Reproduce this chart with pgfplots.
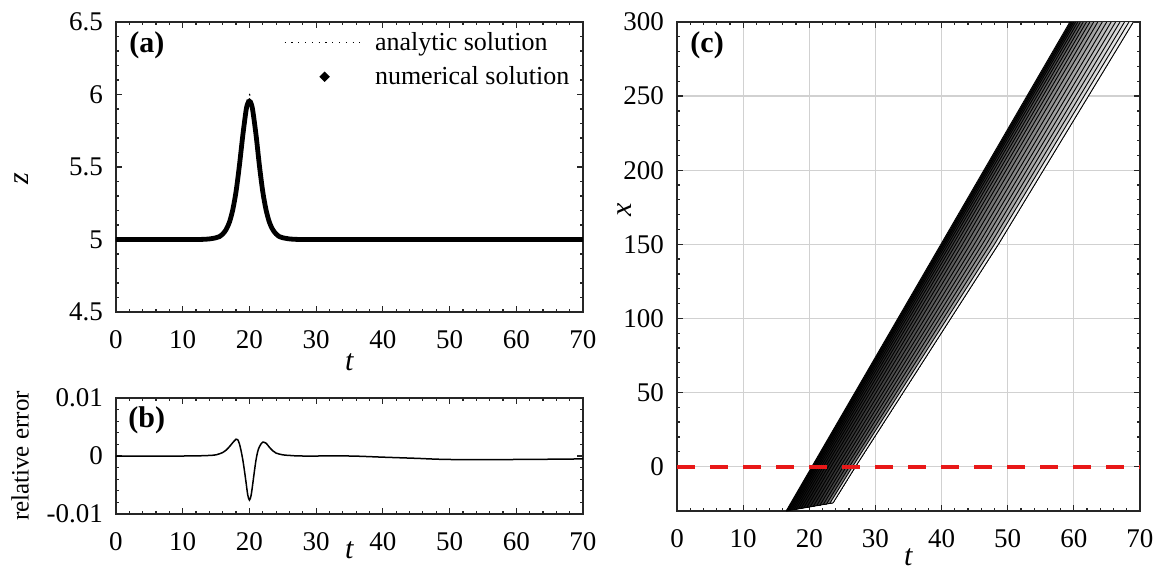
\documentclass[border=0pt]{standalone}
\usepackage{fontspec}
\setmainfont{Liberation Serif}
\usepackage{pgfplots}
\pgfplotsset{compat=1.18}

\definecolor{dashred}{RGB}{232,24,24}

\tikzset{panel tag/.style={font=\bfseries\fontsize{15}{17}\selectfont, inner sep=0pt}}

\pgfplotsset{
  panel/.style={
    scale only axis,
    anchor=south west,
    axis line style={black!85, line width=0.75pt},
    every tick/.style={black!85, line width=0.6pt},
    major tick length=3pt,
    minor tick length=1.7pt,
    minor tick num=4,
    tick align=inside,
    xmin=0, xmax=70,
    xtick={0,10,...,70},
    xticklabels={0,10,20,30,40,50,60,70},
    scaled ticks=false,
    /pgf/number format/assume math mode=true,
    tick label style={font=\fontsize{13.5}{15}\selectfont},
    xticklabel style={yshift=-5.5pt},
    yticklabel style={xshift=-3pt},
    label style={font=\fontsize{15}{17}\selectfont},
  },
  bandline/.style={black, line width=0.45pt},
  bandfill/.style 2 args={draw=none, top color=#1, bottom color=#2},
}

\begin{document}
\begin{tikzpicture}
\path[use as bounding box] (0,0) rectangle (581.5pt,285pt);

% ---------------- (a) profile z(t) ----------------
\begin{axis}[panel,
  at={(58pt,129pt)}, width=233.5pt, height=145pt,
  ymin=4.5, ymax=6.5,
  ytick={4.5,5,5.5,6,6.5}, yticklabels={4.5,5,5.5,6,6.5},
  xlabel={\textit{t}},
  xlabel style={at={(axis description cs:0.5,0)}, anchor=center, yshift=-25pt},
  ylabel={\textit{z}},
  ylabel style={at={(axis description cs:0,0.46)}, anchor=center, yshift=47pt},
  legend style={draw=none, fill=none, at={(axis description cs:0.98,0.98)},
    anchor=north east, font=\fontsize{13}{15}\selectfont, row sep=2.5pt,
    inner sep=0pt, cells={anchor=west}},
]
\addplot[black, line width=0.6pt, dash pattern=on 0.6pt off 2.8pt, smooth,
  legend image code/.code={
    \draw[black, line width=0.6pt, dash pattern=on 0.6pt off 2.8pt] (0pt,0pt) -- (37.5pt,0pt);
    \path (42pt,0pt);}]
  coordinates {
  (0,5.0000) (10,5.0000) (12,5.0003) (13,5.0010) (14,5.0034) (15,5.0111)
  (15.5,5.0198) (16,5.0355) (16.5,5.0631) (17,5.1112) (17.5,5.1922)
  (18,5.3169) (18.5,5.4999) (19,5.7205) (19.5,5.9180) (19.75,5.9788)
  (20,6.0000) (20.25,5.9788) (20.5,5.9180) (21,5.7205) (21.5,5.4999)
  (22,5.3169) (22.5,5.1922) (23,5.1112) (23.5,5.0631) (24,5.0355)
  (24.5,5.0198) (25,5.0111) (26,5.0034) (27,5.0010) (28,5.0003)
  (30,5.0000) (70,5.0000)};
\addlegendentry{analytic solution}
\addplot[black, line width=2.4pt, smooth,
  legend image code/.code={
    \path (0pt,0pt);
    \fill[black] (20pt,0pt) circle (0.9pt);
    \path (42pt,0pt);}]
  coordinates {
  (0,5.000) (10,5.000) (12,5.000) (13,5.001) (14,5.004) (15,5.012)
  (15.5,5.020) (16,5.038) (16.5,5.068) (17,5.119) (17.5,5.204)
  (18,5.332) (18.5,5.511) (19,5.715) (19.5,5.891) (19.75,5.938)
  (20,5.954) (20.25,5.938) (20.5,5.890) (21,5.718) (21.5,5.509)
  (22,5.330) (22.5,5.203) (23,5.118) (23.5,5.068) (24,5.038)
  (24.5,5.020) (25,5.012) (26,5.004) (27,5.001) (28,5.000)
  (30,5.000) (70,5.000)};
\addlegendentry{numerical solution}
\node[panel tag] at (axis description cs:0.066,0.92) {(a)};
\end{axis}

% ---------------- (b) relative error ----------------
\begin{axis}[panel,
  at={(58pt,28pt)}, width=233.5pt, height=58pt,
  ymin=-0.01, ymax=0.01,
  ytick={-0.01,0,0.01}, yticklabels={-0.01,0,0.01},
  xlabel={\textit{t}},
  xlabel style={at={(axis description cs:0.5,0)}, anchor=center, yshift=-18pt},
  ylabel={relative error},
  ylabel style={at={(axis description cs:0,0.5)}, anchor=center, yshift=48pt,
    font=\fontsize{12.5}{14}\selectfont},
]
\addplot[black, line width=0.75pt, smooth, tension=0.5] coordinates {
  (0,0) (10,0) (13,0.00005) (14,0.0001) (15,0.0002) (16,0.0006)
  (16.5,0.0010) (17,0.0016) (17.5,0.0023) (18,0.0029) (18.25,0.0028)
  (18.5,0.0021) (18.75,0.0009) (19,-0.0006) (19.25,-0.0025)
  (19.5,-0.0046) (19.75,-0.0067) (20,-0.0076) (20.25,-0.0068)
  (20.5,-0.0048) (20.75,-0.0026) (21,-0.0006) (21.25,0.0008)
  (21.5,0.0016) (21.75,0.0021) (22,0.0024) (22.5,0.0022) (23,0.0015)
  (23.5,0.0009) (24,0.0005) (25,0.0002) (26,0.0001) (28,0) (35,0)
  (40,-0.0002) (45,-0.0004) (50,-0.0006) (60,-0.0006) (70,-0.0005)};
\node[panel tag] at (axis description cs:0.066,0.81) {(b)};
\end{axis}

% ---------------- (c) level lines in the (t,x) plane ----------------
\begin{axis}[panel,
  at={(338.5pt,29.5pt)}, width=231.5pt, height=244.5pt,
  ymin=-30, ymax=300,
  ytick={0,50,...,300}, yticklabels={0,50,100,150,200,250,300},
  grid=major, major grid style={black!18, line width=0.6pt},
  xlabel={\textit{t}},
  xlabel style={at={(axis description cs:0.5,0)}, anchor=center, yshift=-23pt},
  ylabel={\textit{x}},
  ylabel style={at={(axis description cs:0,0.615)}, anchor=center, yshift=26pt},
]
% filled levels: each region runs from its level line to the trailing edge
\addplot[bandfill={black!20}{black!8}]  coordinates {(16.50,-30.00) (20.40,0) (39.90,150) (59.40,300) (69.00,300) (48.60,150) (27.00,0) (23.60,-24.50)} -- cycle;
\addplot[bandfill={black!85}{black!90}] coordinates {(16.61,-29.92) (20.50,0) (40.03,150) (59.54,300) (69.00,300) (48.60,150) (27.00,0) (23.60,-24.50)} -- cycle;
\addplot[bandfill={black!90}{black!95}] coordinates {(16.75,-29.81) (20.63,0) (40.20,150) (59.74,300) (69.00,300) (48.60,150) (27.00,0) (23.60,-24.50)} -- cycle;
\addplot[bandfill={black!85}{black!96}] coordinates {(16.93,-29.67) (20.80,0) (40.42,150) (59.98,300) (69.00,300) (48.60,150) (27.00,0) (23.60,-24.50)} -- cycle;
\addplot[bandfill={black!75}{black!96}] coordinates {(17.14,-29.51) (20.99,0) (40.68,150) (60.26,300) (69.00,300) (48.60,150) (27.00,0) (23.60,-24.50)} -- cycle;
\addplot[bandfill={black!68}{black!95}] coordinates {(17.39,-29.31) (21.23,0) (40.99,150) (60.60,300) (69.00,300) (48.60,150) (27.00,0) (23.60,-24.50)} -- cycle;
\addplot[bandfill={black!62}{black!94}] coordinates {(17.67,-29.09) (21.49,0) (41.34,150) (60.98,300) (69.00,300) (48.60,150) (27.00,0) (23.60,-24.50)} -- cycle;
\addplot[bandfill={black!56}{black!93}] coordinates {(17.99,-28.85) (21.79,0) (41.73,150) (61.42,300) (69.00,300) (48.60,150) (27.00,0) (23.60,-24.50)} -- cycle;
\addplot[bandfill={black!50}{black!92}] coordinates {(18.35,-28.57) (22.12,0) (42.16,150) (61.90,300) (69.00,300) (48.60,150) (27.00,0) (23.60,-24.50)} -- cycle;
\addplot[bandfill={black!45}{black!91}] coordinates {(18.74,-28.27) (22.48,0) (42.64,150) (62.42,300) (69.00,300) (48.60,150) (27.00,0) (23.60,-24.50)} -- cycle;
\addplot[bandfill={black!40}{black!90}] coordinates {(19.16,-27.94) (22.88,0) (43.16,150) (63.00,300) (69.00,300) (48.60,150) (27.00,0) (23.60,-24.50)} -- cycle;
\addplot[bandfill={black!35}{black!88}] coordinates {(19.62,-27.58) (23.30,0) (43.73,150) (63.62,300) (69.00,300) (48.60,150) (27.00,0) (23.60,-24.50)} -- cycle;
\addplot[bandfill={black!30}{black!86}] coordinates {(20.12,-27.20) (23.77,0) (44.34,150) (64.30,300) (69.00,300) (48.60,150) (27.00,0) (23.60,-24.50)} -- cycle;
\addplot[bandfill={black!26}{black!84}] coordinates {(20.62,-26.81) (24.23,0) (44.95,150) (64.97,300) (69.00,300) (48.60,150) (27.00,0) (23.60,-24.50)} -- cycle;
\addplot[bandfill={black!22}{black!80}] coordinates {(21.12,-26.43) (24.69,0) (45.56,150) (65.64,300) (69.00,300) (48.60,150) (27.00,0) (23.60,-24.50)} -- cycle;
\addplot[bandfill={black!18}{black!76}] coordinates {(21.61,-26.04) (25.15,0) (46.16,150) (66.31,300) (69.00,300) (48.60,150) (27.00,0) (23.60,-24.50)} -- cycle;
\addplot[bandfill={black!14}{black!70}] coordinates {(22.11,-25.66) (25.61,0) (46.77,150) (66.98,300) (69.00,300) (48.60,150) (27.00,0) (23.60,-24.50)} -- cycle;
\addplot[bandfill={black!10}{black!55}] coordinates {(22.61,-25.27) (26.08,0) (47.38,150) (67.66,300) (69.00,300) (48.60,150) (27.00,0) (23.60,-24.50)} -- cycle;
\addplot[bandfill={black!6}{black!10}]  coordinates {(23.10,-24.89) (26.54,0) (47.99,150) (68.33,300) (69.00,300) (48.60,150) (27.00,0) (23.60,-24.50)} -- cycle;

% level lines
\addplot[bandline] coordinates {(16.50,-30.00) (20.40,0) (39.90,150) (59.40,300)};
\addplot[bandline] coordinates {(16.61,-29.92) (20.50,0) (40.03,150) (59.54,300)};
\addplot[bandline] coordinates {(16.75,-29.81) (20.63,0) (40.20,150) (59.74,300)};
\addplot[bandline] coordinates {(16.93,-29.67) (20.80,0) (40.42,150) (59.98,300)};
\addplot[bandline] coordinates {(17.14,-29.51) (20.99,0) (40.68,150) (60.26,300)};
\addplot[bandline] coordinates {(17.39,-29.31) (21.23,0) (40.99,150) (60.60,300)};
\addplot[bandline] coordinates {(17.67,-29.09) (21.49,0) (41.34,150) (60.98,300)};
\addplot[bandline] coordinates {(17.99,-28.85) (21.79,0) (41.73,150) (61.42,300)};
\addplot[bandline] coordinates {(18.35,-28.57) (22.12,0) (42.16,150) (61.90,300)};
\addplot[bandline] coordinates {(18.74,-28.27) (22.48,0) (42.64,150) (62.42,300)};
\addplot[bandline] coordinates {(19.16,-27.94) (22.88,0) (43.16,150) (63.00,300)};
\addplot[bandline] coordinates {(19.62,-27.58) (23.30,0) (43.73,150) (63.62,300)};
\addplot[bandline] coordinates {(20.12,-27.20) (23.77,0) (44.34,150) (64.30,300)};
\addplot[bandline] coordinates {(20.62,-26.81) (24.23,0) (44.95,150) (64.97,300)};
\addplot[bandline] coordinates {(21.12,-26.43) (24.69,0) (45.56,150) (65.64,300)};
\addplot[bandline] coordinates {(21.61,-26.04) (25.15,0) (46.16,150) (66.31,300)};
\addplot[bandline] coordinates {(22.11,-25.66) (25.61,0) (46.77,150) (66.98,300)};
\addplot[bandline] coordinates {(22.61,-25.27) (26.08,0) (47.38,150) (67.66,300)};
\addplot[bandline] coordinates {(23.10,-24.89) (26.54,0) (47.99,150) (68.33,300)};
\addplot[bandline] coordinates {(23.60,-24.50) (27.00,0) (48.60,150) (69.00,300)};
\addplot[bandline] coordinates {(16.50,-30.00) (23.60,-24.50)};

\addplot[dashred, line width=2pt, dash pattern=on 9pt off 7.5pt] coordinates {(0,0) (70,0)};
\node[panel tag] at (axis description cs:0.065,0.953) {(c)};
\end{axis}
\end{tikzpicture}
\end{document}
